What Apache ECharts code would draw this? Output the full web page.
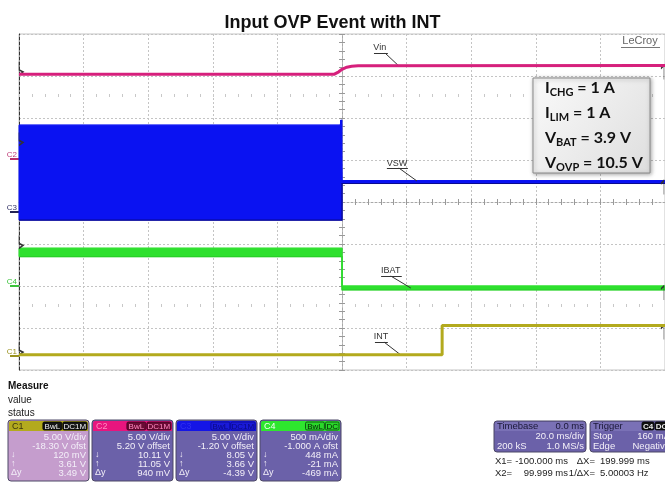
<!DOCTYPE html>
<html><head><meta charset="utf-8">
<script src="https://cdn.jsdelivr.net/npm/echarts@6/dist/echarts.min.js"></script>
<style>html,body{margin:0;padding:0;background:#fff}#c{width:665px;height:489px}</style>
</head><body><div id="c"></div>
<script>
// ---- scope settings (per channel C1..C4) ----
const chNames = ['C1', 'C2', 'C3', 'C4'];
const chPerDiv = [5, 5, 5, 0.5];          // V/div (A/div for C4)
const chOffset = [-18.3, 5.2, -1.2, -1.0]; // offset (V or A)
// ---- time axis (ms), 20 ms/div ----
const timeMin = -100, timeMax = 100, timePerDiv = 20;
// ---- C2 : Vin (V) ----
const vinT = [-100, -2.5, -1, 0, 1.5, 3, 5, 100];
const vinV = [10.0, 10.0, 10.3, 10.6, 10.85, 10.97, 11.03, 11.05];
// ---- C3 : VSW envelope (V) ----
const vswT    = [-100, -0.5, -0.4, 0, 0, 100];
const vswLow  = [-0.95, -0.95, -0.95, -0.95, 3.4, 3.4];
const vswHigh = [10.35, 10.35, 10.95, 10.95, 3.75, 3.75];
// ---- C4 : IBAT envelope (A) ----
const ibatT    = [-100, 0, 0, 100];
const ibatLow  = [0.35, 0.35, -0.045, -0.045];
const ibatHigh = [0.45, 0.45, 0.0, 0.0];
// ---- C1 : INT (V) ----
const intT = [-100, 31, 31, 100];
const intV = [0.12, 0.12, 3.61, 3.61];
// ---- readout panel text ----
const measureLabels = ['Measure', 'value', 'status'];
const c1Rows = ['5.00 V/div', '-18.30 V ofst', '120 mV', '3.61 V', '3.49 V'];
const c2Rows = ['5.00 V/div', '5.20 V offset', '10.11 V', '11.05 V', '940 mV'];
const c3Rows = ['5.00 V/div', '-1.20 V offset', '8.05 V', '3.66 V', '-4.39 V'];
const c4Rows = ['500 mA/div', '-1.000 A ofst', '448 mA', '-21 mA', '-469 mA'];
const rowSyms = ['', '', '\u2193', '\u2191', '\u0394y'];
const timebaseRows = [['Timebase', '0.0 ms'], ['', '20.0 ms/div'], ['200 kS', '1.0 MS/s']];
const triggerRows = [['Trigger', ''], ['Stop', '160 mA'], ['Edge', 'Negative']];
const cursorRows = [['X1=', '-100.000 ms', '\u0394X=', '199.999 ms'], ['X2=', '99.999 ms', '1/\u0394X=', '5.00003 Hz']];
const noteLines = [['I', 'CHG', ' = 1 A'], ['I', 'LIM', ' = 1 A'], ['V', 'BAT', ' = 3.9 V'], ['V', 'OVP', ' = 10.5 V']];

const FONT = '"Liberation Sans", Arial, sans-serif';
const zip = (a, b) => a.map((x, i) => [x, b[i]]);
const COL = { c1: '#b3aa1e', c2: '#d6207c', c3: '#0a12f2', c4: '#2ee02e' };

const chart = echarts.init(document.getElementById('c'), null, { renderer: 'canvas' });

function chAxis(i, tickColor, labelColor) {
  const center = -chOffset[i], half = 4 * chPerDiv[i];
  return {
    type: 'value', gridIndex: 0, position: 'left', min: +(center - half).toFixed(3), max: +(center + half).toFixed(3),
    axisLine: { show: false, onZero: false }, splitLine: { show: false },
    axisTick: { show: true, customValues: [0], length: 9, lineStyle: { color: tickColor, width: 2 } },
    axisLabel: { show: true, customValues: [0], formatter: () => chNames[i], color: labelColor, fontSize: 8, fontFamily: FONT, margin: 2, verticalAlign: 'bottom' }
  };
}
const xBase = { type: 'value', gridIndex: 0, position: 'bottom', min: timeMin, max: timeMax,
  axisLabel: { show: false }, splitLine: { show: false }, axisLine: { show: false, onZero: false }, axisTick: { show: false } };
const hidY = { type: 'value', gridIndex: 0, position: 'left', axisLabel: { show: false }, splitLine: { show: false }, axisTick: { show: false } };

const leftMark = 'path://M0,0 L0,8 L4,10 L0,13';
const rightMark = 'path://M0,3 L3,0 L3,14';
const markStyle = { color: 'rgba(0,0,0,0)', borderColor: '#333', borderWidth: 1 };
function annot(text, labelPt, under, leader) {
  return {
    ml: [[{ coord: under[0] }, { coord: under[1] }], [{ coord: leader[0] }, { coord: leader[1] }]],
    mp: { coord: labelPt, symbol: 'rect', symbolSize: 1, itemStyle: { color: 'rgba(0,0,0,0)' },
      label: { show: true, position: 'inside', formatter: text, color: '#333', fontSize: 9, fontFamily: FONT } }
  };
}
const markLineBase = { silent: true, symbol: ['none', 'none'], animation: false, label: { show: false }, lineStyle: { color: '#333', width: 1, type: 'solid' } };
function edgeMarks(leftV, rightV) {
  return [
    { coord: [timeMin, leftV], symbol: leftMark, symbolSize: [4, 13], symbolOffset: [2, -6], itemStyle: markStyle },
    { coord: [timeMax - 0.8, rightV], symbol: rightMark, symbolSize: [3, 14], symbolOffset: [0, 7], itemStyle: markStyle }
  ];
}
const aVin = annot('Vin', [11.7, 13.25], [[9.9, 12.54], [14.2, 12.54]], [[13.3, 12.54], [17.3, 11.1]]);
const aVsw = annot('VSW', [17.0, 5.84], [[13.9, 5.25], [20.4, 5.25]], [[17.6, 5.25], [23.2, 3.7]]);
const aIbat = annot('IBAT', [15.1, 0.18], [[12.1, 0.119], [18.5, 0.119]], [[15.1, 0.119], [21.3, -0.024]]);
const aInt = annot('INT', [12.1, 2.23], [[10.2, 1.63], [14.2, 1.63]], [[13.0, 1.63], [18.2, 0.09]]);

// envelope band (filled between low & high arrays) drawn through the axis scales
function bandSeries(name, yIdx, T, lo, hi, fill, edge) {
  return {
    name, type: 'custom', xAxisIndex: 0, yAxisIndex: yIdx, silent: true, z: 3, data: [[T[0], hi[0]]],
    renderItem: (params, api) => {
      const top = T.map((t, i) => api.coord([t, hi[i]]));
      const bot = T.map((t, i) => api.coord([t, lo[i]])).reverse();
      return { type: 'group', children: [
        { type: 'polygon', shape: { points: top.concat(bot) }, style: { fill, stroke: fill, lineWidth: 1 } },
        { type: 'polyline', shape: { points: bot }, style: { fill: null, stroke: edge, lineWidth: 1.2 } }
      ] };
    }
  };
}

// ---------- graphic: readout panel ----------
const G = [];
const txt = (x, y, text, o = {}) => G.push({ type: 'text', x, y, silent: true, z: 100,
  style: Object.assign({ text, fill: '#222', font: `10px ${FONT}`, align: 'left', verticalAlign: 'middle' }, o) });
const rect = (x, y, w, h, style, r = 0) => G.push({ type: 'rect', silent: true, z: 90, shape: { x, y, width: w, height: h, r }, style });

txt(8, 386, measureLabels[0], { font: `bold 10px ${FONT}`, fill: '#111' });
txt(8, 400, measureLabels[1], { font: `10px ${FONT}` });
txt(8, 413, measureLabels[2], { font: `10px ${FONT}` });

function chBox(x, hdr, body, name, nameColor, badges, bFill, bText, bStroke, rows) {
  rect(x, 420, 81, 61, { fill: body, stroke: '#4d4866', lineWidth: 1 }, 3);
  rect(x + 1, 421, 79, 10, { fill: hdr }, [2, 2, 0, 0]);
  txt(x + 4, 426.5, name, { fill: nameColor, font: `9px ${FONT}` });
  let bx = x + 79;
  for (let j = badges.length - 1; j >= 0; j--) {
    const w = badges[j].length * 5.3 + 3;
    bx -= w;
    rect(bx, 422, w, 8, { fill: bFill, stroke: bStroke, lineWidth: 0.8 }, 1.5);
    txt(bx + w / 2, 426.5, badges[j], { fill: bText, font: `8px ${FONT}`, align: 'center' });
    bx -= 1;
  }
  rows.forEach((r, k) => {
    txt(x + 78, 437 + k * 9, r, { fill: '#f3eff8', font: `9.5px ${FONT}`, align: 'right' });
    if (rowSyms[k]) txt(x + 3, 437 + k * 9, rowSyms[k], { fill: '#f3eff8', font: `9px ${FONT}` });
  });
}
chBox(8, '#b3aa1e', '#c59dcd', chNames[0], '#3a3510', ['BwL', 'DC1M'], '#151515', '#f0f0f0', '#000', c1Rows);
chBox(92, '#e8157e', '#6b61a9', chNames[1], '#ff8cc0', ['BwL', 'DC1M'], '#6a0a34', '#ff8cc0', '#400020', c2Rows);
chBox(176, '#1515e6', '#6b61a9', chNames[2], '#3030f0', ['BwL', 'DC1M'], '#1a1ad8', '#0a0a80', '#0a0a90', c3Rows);
chBox(260, '#2ee62e', '#6b61a9', chNames[3], '#f4fff4', ['BwL', 'DC'], '#2ad82a', '#062006', '#0a400a', c4Rows);

// timebase box
rect(494, 421, 92, 31, { fill: '#6b61a9', stroke: '#4d4866', lineWidth: 1 }, 3);
rect(495, 422, 90, 9, { fill: '#7a71b6' }, [2, 2, 0, 0]);
timebaseRows.forEach((r, k) => {
  const y = 426.5 + k * 10;
  const c = k === 0 ? '#1b1838' : '#f3eff8';
  if (r[0]) txt(497, y, r[0], { fill: c, font: `9.5px ${FONT}` });
  if (r[1]) txt(584, y, r[1], { fill: c, font: `9.5px ${FONT}`, align: 'right' });
});
// trigger box
rect(590, 421, 85, 31, { fill: '#6b61a9', stroke: '#4d4866', lineWidth: 1 }, 3);
rect(591, 422, 83, 9, { fill: '#7a71b6' }, [2, 2, 0, 0]);
triggerRows.forEach((r, k) => {
  const y = 426.5 + k * 10;
  const c = k === 0 ? '#1b1838' : '#f3eff8';
  if (r[0]) txt(593, y, r[0], { fill: c, font: `9.5px ${FONT}` });
  if (r[1]) txt(670, y, r[1], { fill: c, font: `9.5px ${FONT}`, align: 'right' });
});
rect(642, 422, 12, 8, { fill: '#111', stroke: '#000', lineWidth: 0.8 }, 1.5);
txt(648, 426.5, chNames[3], { fill: '#e8e8e8', font: `bold 8px ${FONT}`, align: 'center' });
rect(655, 422, 13, 8, { fill: '#111', stroke: '#000', lineWidth: 0.8 }, 1.5);
txt(661.5, 426.5, 'DC', { fill: '#e8e8e8', font: `bold 8px ${FONT}`, align: 'center' });
// cursor readouts
cursorRows.forEach((r, k) => {
  const y = 461 + k * 12;
  txt(495, y, r[0], { font: `9.5px ${FONT}` });
  txt(568, y, r[1], { font: `9.5px ${FONT}`, align: 'right' });
  txt(595, y, r[2], { font: `9.5px ${FONT}`, align: 'right' });
  txt(600, y, r[3], { font: `9.5px ${FONT}` });
});
// LeCroy logo text
txt(640, 41, 'LeCroy', { fill: '#666', font: `11px ${FONT}`, align: 'center' });
G.push({ type: 'line', silent: true, z: 100, shape: { x1: 621, y1: 47.5, x2: 660, y2: 47.5 }, style: { stroke: '#777', lineWidth: 1 } });
// annotation box
G.push({ type: 'rect', silent: true, z: 95, shape: { x: 533, y: 78, width: 117, height: 95 },
  style: { fill: new echarts.graphic.LinearGradient(0, 0, 1, 1, [{ offset: 0, color: '#fafafa' }, { offset: 1, color: '#dedede' }]),
    stroke: '#8a8a8a', lineWidth: 1, shadowBlur: 4, shadowColor: 'rgba(0,0,0,0.35)', shadowOffsetX: 1, shadowOffsetY: 1 } });
noteLines.forEach((l, k) => {
  G.push({ type: 'text', x: 545, y: 88 + k * 25, silent: true, z: 100,
    style: { text: `{m|${l[0]}}{s|${l[1]}}{m|${l[2]}}`, verticalAlign: 'middle', align: 'left',
      rich: { m: { fontSize: 16, fontWeight: 'bold', fontFamily: 'Lato', fill: '#111', lineHeight: 20, verticalAlign: 'middle' },
              s: { fontSize: 11, fontWeight: 'bold', fontFamily: 'Lato', fill: '#111', lineHeight: 12, verticalAlign: 'bottom' } } } });
});

const option = {
  animation: false,
  backgroundColor: '#fff',
  title: { text: 'Input OVP Event with INT', left: 'center', top: 9, textStyle: { fontFamily: FONT, fontWeight: 'bold', fontSize: 18, color: '#111' } },
  grid: { left: 19, top: 34, width: 647, height: 336, show: true, borderColor: '#c4c4c4', borderWidth: 1, containLabel: false },
  xAxis: [
    Object.assign({}, xBase, { interval: timePerDiv, splitLine: { show: true, lineStyle: { color: '#c4c4c4', width: 1, type: [2, 2] } } }),
    Object.assign({}, xBase, { interval: 4, axisLine: { show: true, onZero: true, onZeroAxisIndex: 0, lineStyle: { color: '#a8a8a8', type: [2, 2] } }, axisTick: { show: true, length: 3, inside: false, lineStyle: { color: '#999' } } }),
    Object.assign({}, xBase, { interval: 4, axisLine: { show: false, onZero: true, onZeroAxisIndex: 0 }, axisTick: { show: true, length: 3, inside: true, lineStyle: { color: '#999' } } }),
    Object.assign({}, xBase, { interval: 4, axisLine: { show: false, onZero: true, onZeroAxisIndex: 6 }, axisTick: { show: true, length: 3, inside: true, lineStyle: { color: '#c8c8c8' } } }),
    Object.assign({}, xBase, { interval: 4, axisLine: { show: false, onZero: true, onZeroAxisIndex: 7 }, axisTick: { show: true, length: 3, inside: true, lineStyle: { color: '#c8c8c8' } } })
  ],
  yAxis: [
    Object.assign({}, hidY, { min: -4, max: 4, interval: 1, axisLine: { show: true, onZero: false, lineStyle: { color: '#333', type: [3, 2] } }, splitLine: { show: true, lineStyle: { color: '#c4c4c4', width: 1, type: [2, 2] } } }),
    chAxis(0, '#9a9220', '#9a9220'),
    chAxis(1, '#b8306a', '#c0407a'),
    chAxis(2, '#222255', '#333366'),
    chAxis(3, '#3ac23a', '#3ac23a'),
    Object.assign({}, hidY, { min: -4, max: 4, interval: 0.2, axisLine: { show: true, onZero: true, onZeroAxisIndex: 0, lineStyle: { color: '#a8a8a8', type: [2, 2] } }, axisTick: { show: true, length: 3, inside: false, lineStyle: { color: '#999' } } }),
    Object.assign({}, hidY, { min: -6.5, max: 1.5, axisLine: { show: false, onZero: false } }),
    Object.assign({}, hidY, { min: -1.5, max: 6.5, axisLine: { show: false, onZero: false } }),
    Object.assign({}, hidY, { min: -4, max: 4, interval: 0.2, axisLine: { show: false, onZero: true, onZeroAxisIndex: 0 }, axisTick: { show: true, length: 3, inside: true, lineStyle: { color: '#999' } } })
  ],
  series: [
    { name: 'Vin', type: 'line', xAxisIndex: 0, yAxisIndex: 2, data: zip(vinT, vinV), showSymbol: false, silent: true, z: 5,
      lineStyle: { color: COL.c2, width: 3 },
      markLine: Object.assign({}, markLineBase, { data: aVin.ml }),
      markPoint: { silent: true, animation: false, data: [aVin.mp].concat(edgeMarks(vinV[0], vinV[vinV.length - 1])) } },
    bandSeries('VSW band', 3, vswT, vswLow, vswHigh, COL.c3, '#0a0a90'),
    { name: 'VSW', type: 'line', xAxisIndex: 0, yAxisIndex: 3, data: zip(vswT, vswHigh), showSymbol: false, silent: true, z: 4,
      lineStyle: { color: COL.c3, width: 1 },
      markLine: Object.assign({}, markLineBase, { data: aVsw.ml }),
      markPoint: { silent: true, animation: false, data: [aVsw.mp].concat(edgeMarks(8.0, vswHigh[vswHigh.length - 1])) } },
    bandSeries('IBAT band', 4, ibatT, ibatLow, ibatHigh, COL.c4, '#28d028'),
    { name: 'IBAT', type: 'line', xAxisIndex: 0, yAxisIndex: 4, data: zip(ibatT, ibatHigh), showSymbol: false, silent: true, z: 4,
      lineStyle: { color: COL.c4, width: 1 },
      markLine: Object.assign({}, markLineBase, { data: aIbat.ml }),
      markPoint: { silent: true, animation: false, data: [aIbat.mp].concat(edgeMarks(0.453, ibatHigh[ibatHigh.length - 1])) } },
    { name: 'INT', type: 'line', xAxisIndex: 0, yAxisIndex: 1, data: zip(intT, intV), showSymbol: false, silent: true, z: 5,
      lineStyle: { color: COL.c1, width: 3 },
      markLine: Object.assign({}, markLineBase, { data: aInt.ml }),
      markPoint: { silent: true, animation: false, data: [aInt.mp].concat(edgeMarks(intV[0], intV[intV.length - 1])) } }
  ],
  graphic: G
};
chart.setOption(option);
</script></body></html>
